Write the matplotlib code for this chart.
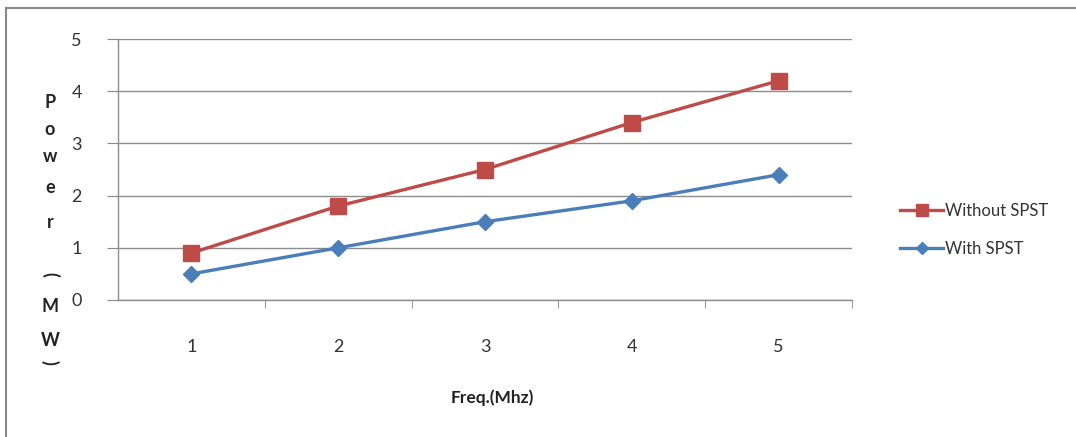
import matplotlib
matplotlib.use("Agg")
import matplotlib.pyplot as plt
from matplotlib.patches import Rectangle

freq = [1, 2, 3, 4, 5]
without_spst = [0.9, 1.8, 2.5, 3.4, 4.2]
with_spst = [0.5, 1.0, 1.5, 1.9, 2.4]
y_ticks = [0, 1, 2, 3, 4, 5]

W, H = 1076, 437
fig = plt.figure(figsize=(W / 100, H / 100), dpi=100)
plt.rcParams['font.family'] = ['Lato', 'DejaVu Sans']

# outer chart frame
fig.patches.append(Rectangle((6 / W, -0.1), 1.2, (437 - 8) / H + 0.1,
                             transform=fig.transFigure, fill=False,
                             edgecolor='#888888', linewidth=1.5))

ax = fig.add_axes([118 / W, (437 - 300) / H, 734 / W, 261 / H])
ax.set_xlim(0.5, 5.5)
ax.set_ylim(0, 5)

red = '#BE4B48'
blue = '#4A7EBB'
ax.plot(freq, without_spst, color=red, lw=2.4, marker='s', ms=12,
        label='Without SPST', zorder=3)
ax.plot(freq, with_spst, color=blue, lw=2.4, marker='D', ms=8,
        label='With SPST', zorder=4)

ax.set_yticks(y_ticks)
ax.set_yticklabels([str(v) for v in y_ticks])
ax.set_xticks(freq)
ax.set_xticklabels([str(v) for v in freq])
ax.set_xticks([1.5, 2.5, 3.5, 4.5, 5.5], minor=True)
ax.tick_params(axis='x', which='major', length=0, pad=28, labelsize=13,
               labelcolor='#333333')
ax.tick_params(axis='x', which='minor', length=6, color='#888888', direction='out')
ax.tick_params(axis='y', length=8, color='#888888', pad=18, labelsize=13,
               labelcolor='#333333')
ax.grid(axis='y', color='#8c8c8c', lw=1.0)
ax.set_axisbelow(True)
for s in ['top', 'right']:
    ax.spines[s].set_visible(False)
for s in ['left', 'bottom']:
    ax.spines[s].set_color('#8c8c8c')
    ax.spines[s].set_linewidth(1.0)

# stacked y-axis label
letters = [('P', 102, 0), ('o', 130, 0), ('w', 157, 0), ('e', 188, 0),
           ('r', 222, 0), ('(', 274, -90), ('M', 306, 0), ('W', 340, 0),
           (')', 362, -90)]
for ch, yp, rot in letters:
    fig.text(50 / W, 1 - yp / H, ch, ha='center', va='center', rotation=rot,
             fontsize=13, fontweight='bold', color='#222222')

fig.text(492 / W, 1 - 398 / H, 'Freq.(Mhz)', ha='center', va='center',
         fontsize=12.5, fontweight='bold', color='#222222')

fig.legend(loc='center left', bbox_to_anchor=(885 / W, 1 - 230 / H),
           frameon=False, fontsize=12, handlelength=2.6, handletextpad=0.1,
           labelspacing=1.3, labelcolor='#333333', markerscale=0.75)

fig.savefig('out.png', dpi=100)
